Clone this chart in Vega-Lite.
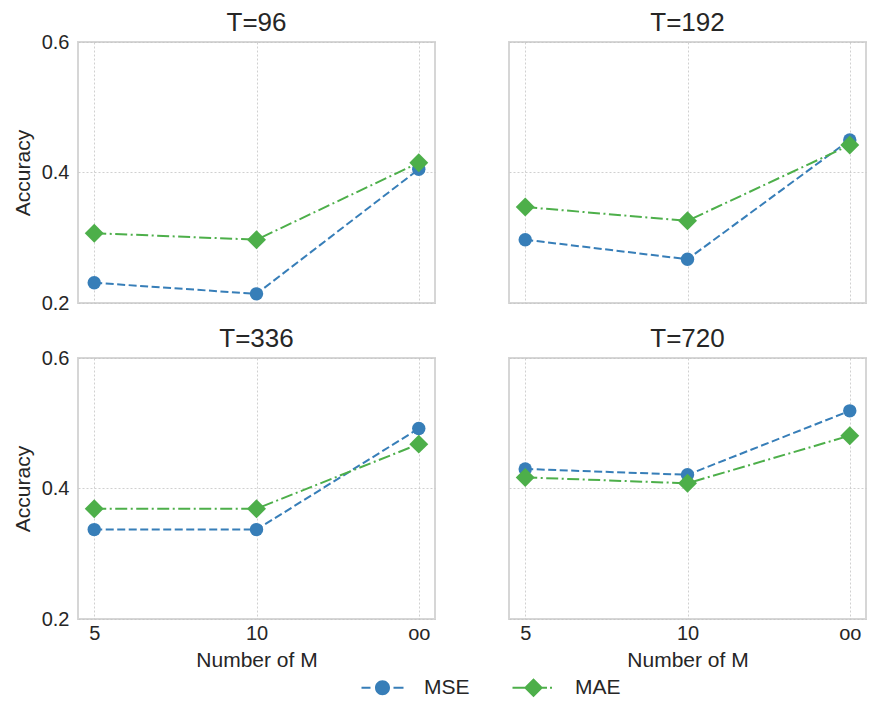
{
  "$schema": "https://vega.github.io/schema/vega-lite/v6.json",
  "padding": {"left": 12, "top": 9, "right": 9, "bottom": 0},
  "background": "white",
  "data": {
    "values": [
      {"T": 96, "M": "5", "metric": "MSE", "value": 0.231},
      {"T": 96, "M": "10", "metric": "MSE", "value": 0.214},
      {"T": 96, "M": "oo", "metric": "MSE", "value": 0.405},
      {"T": 192, "M": "5", "metric": "MSE", "value": 0.297},
      {"T": 192, "M": "10", "metric": "MSE", "value": 0.267},
      {"T": 192, "M": "oo", "metric": "MSE", "value": 0.450},
      {"T": 336, "M": "5", "metric": "MSE", "value": 0.337},
      {"T": 336, "M": "10", "metric": "MSE", "value": 0.337},
      {"T": 336, "M": "oo", "metric": "MSE", "value": 0.492},
      {"T": 720, "M": "5", "metric": "MSE", "value": 0.430},
      {"T": 720, "M": "10", "metric": "MSE", "value": 0.421},
      {"T": 720, "M": "oo", "metric": "MSE", "value": 0.519},
      {"T": 96, "M": "5", "metric": "MAE", "value": 0.307},
      {"T": 96, "M": "10", "metric": "MAE", "value": 0.297},
      {"T": 96, "M": "oo", "metric": "MAE", "value": 0.415},
      {"T": 192, "M": "5", "metric": "MAE", "value": 0.347},
      {"T": 192, "M": "10", "metric": "MAE", "value": 0.326},
      {"T": 192, "M": "oo", "metric": "MAE", "value": 0.442},
      {"T": 336, "M": "5", "metric": "MAE", "value": 0.369},
      {"T": 336, "M": "10", "metric": "MAE", "value": 0.369},
      {"T": 336, "M": "oo", "metric": "MAE", "value": 0.468},
      {"T": 720, "M": "5", "metric": "MAE", "value": 0.417},
      {"T": 720, "M": "10", "metric": "MAE", "value": 0.408},
      {"T": 720, "M": "oo", "metric": "MAE", "value": 0.481}
    ]
  },
  "facet": {
    "field": "T",
    "type": "ordinal",
    "sort": [96, 192, 336, 720],
    "header": {
      "title": null,
      "labelExpr": "'T=' + datum.value",
      "labelFontSize": 26,
      "labelFont": "Liberation Sans",
      "labelColor": "#262626",
      "labelPadding": 6
    }
  },
  "columns": 2,
  "spacing": {"column": 72, "row": 21},
  "spec": {
    "width": 357,
    "height": 261,
    "encoding": {
      "x": {
        "field": "M",
        "type": "ordinal",
        "sort": ["5", "10", "oo"],
        "scale": {"type": "point", "padding": 0.1},
        "axis": {"title": "Number of M", "labelAngle": 0, "labelPadding": 3, "titlePadding": 6}
      },
      "y": {
        "field": "value",
        "type": "quantitative",
        "scale": {"domain": [0.2, 0.6], "nice": false, "zero": false},
        "axis": {"title": "Accuracy", "values": [0.2, 0.4, 0.6], "format": ".1f"}
      },
      "color": {
        "field": "metric",
        "type": "nominal",
        "scale": {"domain": ["MSE", "MAE"], "range": ["#377eb8", "#4daf4a"]},
        "legend": {
          "title": null,
          "orient": "none",
          "legendX": 294,
          "legendY": 635,
          "padding": 0,
          "direction": "horizontal",
          "symbolSize": 400,
          "labelOffset": 31,
          "columnPadding": 42,
          "labelFontSize": 21,
          "labelFont": "Liberation Sans",
          "labelColor": "#262626",
          "encode": {
            "symbols": {
              "update": {
                "shape": {"signal": "datum.value === 'MSE' ? 'M-0.75,0A0.75,0.75,0,1,1,0.75,0A0.75,0.75,0,1,1,-0.75,0ZM-2.1,-0.1L-1.2,-0.1L-1.2,0.1L-2.1,0.1ZM1.1,-0.1L2.1,-0.1L2.1,0.1L1.1,0.1Z' : 'M-0.95,0L0,-0.95L0.95,0L0,0.95ZM-2.1,-0.1L-0.5,-0.1L-0.5,0.1L-2.1,0.1ZM0.5,-0.1L1.35,-0.1L1.35,0.1L0.5,0.1ZM1.65,-0.1L1.85,-0.1L1.85,0.1L1.65,0.1Z'"},
                "fill": {"signal": "datum.value === 'MSE' ? '#377eb8' : '#4daf4a'"},
                "stroke": {"value": "transparent"},
                "strokeWidth": {"value": 0},
                "strokeDash": {"value": []},
                "opacity": {"value": 1},
                "size": {"value": 400}
              }
            }
          }
        }
      }
    },
    "layer": [
      {
        "mark": {"type": "line", "strokeWidth": 2},
        "encoding": {
          "strokeDash": {
            "field": "metric",
            "type": "nominal",
            "scale": {"domain": ["MSE", "MAE"], "range": [[8, 3.5], [12, 3.5, 2, 3.5]]},
            "legend": null
          }
        }
      },
      {
        "transform": [{"filter": {"field": "metric", "equal": "MSE"}}],
        "mark": {"type": "point", "filled": true, "opacity": 1, "shape": "circle", "size": 180}
      },
      {
        "transform": [{"filter": {"field": "metric", "equal": "MAE"}}],
        "mark": {"type": "point", "filled": true, "opacity": 1, "shape": "diamond", "size": 360}
      }
    ]
  },
  "config": {
    "font": "Liberation Sans",
    "view": {"stroke": "#d6d6d6", "strokeWidth": 2},
    "axis": {
      "labelFontSize": 20,
      "titleFontSize": 21,
      "labelColor": "#262626",
      "titleColor": "#262626",
      "titleFontWeight": "normal",
      "labelFont": "Liberation Sans",
      "titleFont": "Liberation Sans",
      "domain": false,
      "ticks": false,
      "labelPadding": 8,
      "titlePadding": 8,
      "grid": true,
      "gridColor": "#c4c4c4",
      "gridDash": [2, 2],
      "gridWidth": 0.8
    }
  }
}
